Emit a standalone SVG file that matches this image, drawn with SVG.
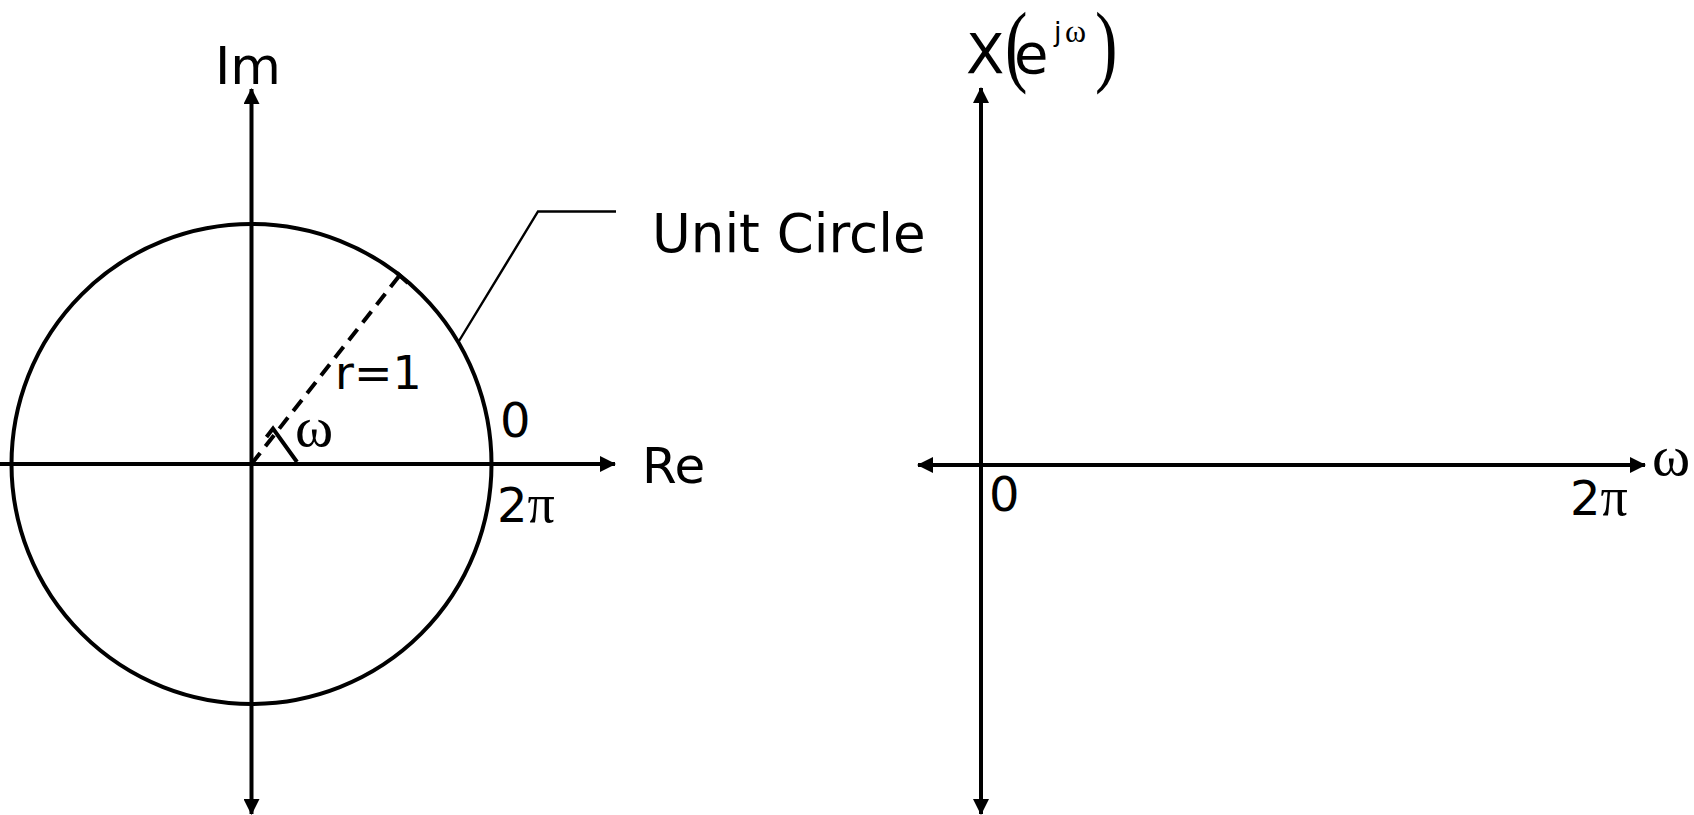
<svg xmlns="http://www.w3.org/2000/svg" width="1694" height="815" viewBox="0 0 1694 815">
<style>
.ax{stroke:#000;stroke-width:4;fill:none}
.thin{stroke:#000;stroke-width:2.4;fill:none}
.sans{font-family:"DejaVu Sans","Verdana",sans-serif;fill:#000}
.serif{font-family:"Liberation Serif","Times New Roman",serif;fill:#000}
</style>
<defs>
<marker id="ah" viewBox="0 0 16 16" refX="15" refY="8" markerWidth="16" markerHeight="16" markerUnits="userSpaceOnUse" orient="auto-start-reverse">
<path d="M0,0 L16,8 L0,16 Z" fill="#000"/>
</marker>
</defs>
<rect width="1694" height="815" fill="#fff"/>
<g id="connectors">
<line class="ax" x1="251.5" y1="814" x2="251.5" y2="89" marker-start="url(#ah)" marker-end="url(#ah)"/>
<line class="ax" x1="0" y1="464" x2="615" y2="464" marker-end="url(#ah)"/>
<line class="ax" x1="981" y1="814" x2="981" y2="88" marker-start="url(#ah)" marker-end="url(#ah)"/>
<line class="ax" x1="918" y1="465" x2="1645" y2="465" marker-start="url(#ah)" marker-end="url(#ah)"/>
<polyline class="thin" points="459,341 538,211.5 616,211.5"/>
</g>
<g id="unit-circle">
<circle class="ax" cx="251.5" cy="464" r="240"/>
<line class="ax" x1="251.5" y1="464" x2="400" y2="275" stroke-dasharray="14 8.5"/>
<line class="ax" x1="397" y1="273" x2="408" y2="283"/>
<polyline class="ax" points="266.5,437 273,428.5 297,462"/>
</g>
<g id="labels-left">
<text class="sans" x="215" y="84" font-size="52">Im</text>
<text class="sans" x="642" y="483" font-size="50">Re</text>
<text class="sans" x="652" y="252" font-size="53">Unit Circle</text>
<text class="sans" x="335" y="389" font-size="46">r=1</text>
<text class="sans" x="500" y="437" font-size="48">0</text>
<text x="497" y="522" font-size="48"><tspan class="sans">2</tspan><tspan class="serif" font-size="54">π</tspan></text>
<text class="serif" x="295" y="446" font-size="58">ω</text>
</g>
<g id="labels-right">
<text class="sans" x="989" y="511" font-size="48">0</text>
<text x="1570" y="515" font-size="48"><tspan class="sans">2</tspan><tspan class="serif" font-size="54">π</tspan></text>
<text class="serif" x="1652" y="475" font-size="58">ω</text>
<text class="sans" x="966" y="73" font-size="56">X</text>
<text class="serif" font-size="90" transform="translate(1005,75) scale(0.75,1)">(</text>
<text class="sans" x="1014" y="73" font-size="56">e</text>
<text class="sans" x="1054" y="41" font-size="27">j</text>
<text class="serif" x="1065" y="42" font-size="32">ω</text>
<text class="serif" font-size="90" transform="translate(1095,75) scale(0.75,1)">)</text>
</g>
</svg>
